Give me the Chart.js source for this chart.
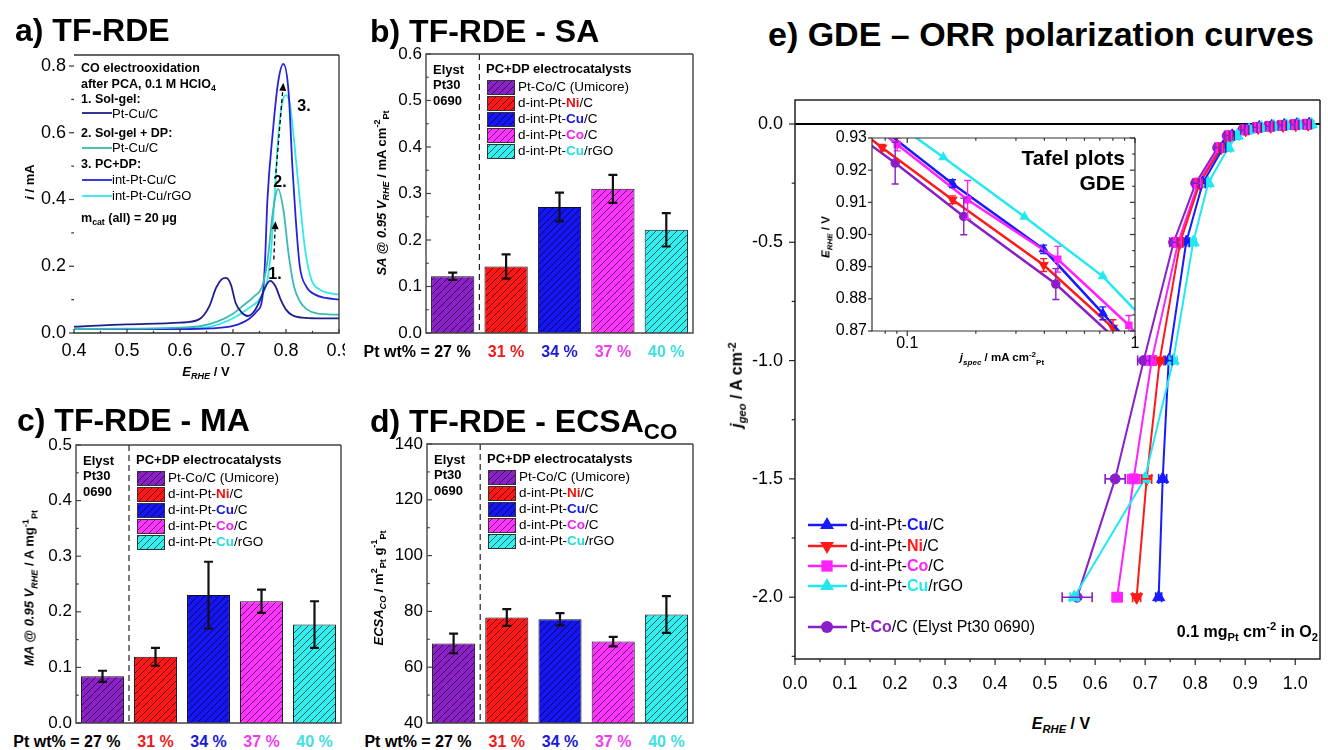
<!DOCTYPE html>
<html>
<head>
<meta charset="utf-8">
<script src="https://cdn.jsdelivr.net/npm/chart.js@4.4.0/dist/chart.umd.min.js"></script>
<style>
  body { margin: 0; background: #fff; }
  #page { position: relative; width: 1328px; height: 750px; overflow: hidden; background: #fff;
          font-family: "Liberation Sans", Arial, sans-serif; color: #000; }
  #page canvas { position: absolute; }
  .t { position: absolute; white-space: nowrap; line-height: 1.15; }
  .t sub, .t sup { font-size: 0.7em; line-height: 0; }
</style>
</head>
<body>
<div id="page">
  <canvas id="chartA"></canvas>
  <canvas id="chartB"></canvas>
  <canvas id="chartC"></canvas>
  <canvas id="chartD"></canvas>
  <canvas id="chartE"></canvas>
  <canvas id="chartInset"></canvas>
</div>
<script>
// ---------- data ----------
// a) CO electrooxidation (E / V vs i / mA)
const solgelE   = [0.40, 0.50, 0.60, 0.635, 0.655, 0.668, 0.678, 0.687, 0.696, 0.705, 0.716, 0.728, 0.740, 0.750, 0.760, 0.770, 0.780, 0.790, 0.800, 0.812, 0.830, 0.860, 0.90];
const solgelI   = [0.019, 0.026, 0.031, 0.040, 0.079, 0.135, 0.160, 0.165, 0.145, 0.090, 0.062, 0.051, 0.065, 0.095, 0.135, 0.156, 0.140, 0.100, 0.070, 0.053, 0.046, 0.044, 0.044];
const solgelDpE = [0.40, 0.50, 0.60, 0.64, 0.67, 0.70, 0.72, 0.74, 0.755, 0.765, 0.775, 0.785, 0.795, 0.805, 0.815, 0.826, 0.84, 0.86, 0.90];
const solgelDpI = [0.012, 0.013, 0.016, 0.021, 0.034, 0.058, 0.083, 0.110, 0.140, 0.215, 0.360, 0.431, 0.370, 0.235, 0.140, 0.095, 0.070, 0.058, 0.055];
const pcCuE     = [0.40, 0.50, 0.60, 0.66, 0.70, 0.73, 0.745, 0.755, 0.760, 0.765, 0.775, 0.785, 0.795, 0.805, 0.812, 0.818, 0.826, 0.838, 0.855, 0.875, 0.90];
const pcCuI     = [0.013, 0.012, 0.012, 0.014, 0.021, 0.042, 0.065, 0.100, 0.200, 0.400, 0.600, 0.750, 0.806, 0.720, 0.500, 0.350, 0.200, 0.140, 0.115, 0.105, 0.100];
const pcRgoE    = [0.40, 0.50, 0.60, 0.66, 0.70, 0.73, 0.753, 0.765, 0.772, 0.778, 0.786, 0.793, 0.800, 0.807, 0.815, 0.826, 0.836, 0.848, 0.864, 0.880, 0.90];
const pcRgoI    = [0.012, 0.012, 0.013, 0.020, 0.044, 0.075, 0.108, 0.160, 0.250, 0.400, 0.600, 0.690, 0.713, 0.690, 0.580, 0.400, 0.250, 0.160, 0.130, 0.120, 0.115];

// b-d) TF-RDE bars
const catalysts  = ['Pt-Co/C (Umicore)', 'd-int-Pt-Ni/C', 'd-int-Pt-Cu/C', 'd-int-Pt-Co/C', 'd-int-Pt-Cu/rGO'];
const elements   = ['', 'Ni', 'Cu', 'Co', 'Cu'];
const ptWt       = ['27 %', '31 %', '34 %', '37 %', '40 %'];
const saValues   = [0.122, 0.143, 0.271, 0.310, 0.222];
const saErrors   = [0.008, 0.026, 0.031, 0.030, 0.036];
const maValues   = [0.084, 0.119, 0.230, 0.219, 0.177];
const maErrors   = [0.010, 0.016, 0.060, 0.021, 0.042];
const ecsaValues = [68.5, 77.8, 77.2, 69.2, 78.9];
const ecsaErrors = [3.5, 3.0, 2.2, 1.7, 6.6];

// e) GDE polarization curves (j_geo / A cm-2, E / V)
const jGeo     = [-0.001, -0.003, -0.006, -0.010, -0.015, -0.025, -0.05, -0.10, -0.25, -0.50, -1.00, -1.50, -2.00];
const eElyst   = [1.020, 0.995, 0.970, 0.945, 0.920, 0.895, 0.864, 0.845, 0.801, 0.757, 0.697, 0.640, 0.564];
const eCo      = [1.024, 0.999, 0.974, 0.949, 0.924, 0.899, 0.868, 0.849, 0.806, 0.766, 0.713, 0.677, 0.644];
const eNi      = [1.026, 1.001, 0.976, 0.951, 0.926, 0.901, 0.870, 0.852, 0.809, 0.770, 0.729, 0.703, 0.683];
const eCu      = [1.028, 1.003, 0.978, 0.953, 0.928, 0.903, 0.874, 0.856, 0.815, 0.782, 0.747, 0.735, 0.727];
const eRgo     = [1.032, 1.007, 0.982, 0.957, 0.932, 0.908, 0.884, 0.866, 0.826, 0.796, 0.756, 0.699, 0.558];
const errElyst = [0.004, 0.004, 0.004, 0.004, 0.004, 0.004, 0.005, 0.006, 0.006, 0.008, 0.012, 0.020, 0.030];
const errCo    = [0.004, 0.004, 0.004, 0.004, 0.004, 0.004, 0.004, 0.005, 0.005, 0.006, 0.008, 0.012, 0.010];
const errNi    = [0.004, 0.004, 0.004, 0.004, 0.004, 0.004, 0.004, 0.005, 0.005, 0.006, 0.008, 0.010, 0.008];
const errCu    = [0.004, 0.004, 0.004, 0.004, 0.004, 0.004, 0.004, 0.005, 0.005, 0.006, 0.007, 0.008, 0.006];
const errRgo   = [0.004, 0.004, 0.004, 0.004, 0.004, 0.004, 0.004, 0.005, 0.005, 0.006, 0.008, 0.006, 0.008];

// e) inset Tafel plots (j_spec / mA cm-2 Pt, E / V)
const tafElystJ = [0.06, 0.0885, 0.177, 0.449, 1.0];
const tafElystE = [0.931, 0.9222, 0.9056, 0.8846, 0.862];
const tafElystD = [0, 0.0065, 0.0057, 0.0048, 0];
const tafCoJ    = [0.06, 0.0903, 0.184, 0.458, 0.94, 1.0];
const tafCoE    = [0.9379, 0.928, 0.9108, 0.8923, 0.8718, 0.8695];
const tafCoD    = [0, 0.002, 0.006, 0.004, 0.003, 0];
const tafNiJ    = [0.06, 0.0776, 0.158, 0.397, 0.80, 1.0];
const tafNiE    = [0.933, 0.927, 0.9108, 0.8905, 0.871, 0.864];
const tafNiD    = [0, 0.001, 0.0012, 0.002, 0.0025, 0];
const tafCuJ    = [0.06, 0.158, 0.397, 0.722, 1.0];
const tafCuE    = [0.939, 0.9158, 0.8954, 0.8755, 0.8645];
const tafCuD    = [0, 0.0012, 0.0013, 0.002, 0];
const tafRgoJ   = [0.08, 0.144, 0.327, 0.722, 1.0];
const tafRgoE   = [0.937, 0.924, 0.9055, 0.887, 0.8765];
const tafRgoD   = [0, 0, 0, 0, 0];

// tick values
const aTicksX = [0.4, 0.5, 0.6, 0.7, 0.8, 0.9];
const aTicksY = [0, 0.2, 0.4, 0.6, 0.8];
const saTicks = [0, 0.1, 0.2, 0.3, 0.4, 0.5, 0.6];
const maTicks = [0, 0.1, 0.2, 0.3, 0.4, 0.5];
const ecsaTicks = [40, 60, 80, 100, 120, 140];
const eTicksX = [0, 0.1, 0.2, 0.3, 0.4, 0.5, 0.6, 0.7, 0.8, 0.9, 1.0];
const eTicksY = [-2.0, -1.5, -1.0, -0.5, 0.0];
const insetTicksX = [0.1, 1];
const insetTicksY = [0.87, 0.88, 0.89, 0.90, 0.91, 0.92, 0.93];

// ---------- styling ----------
const FONT = '"Liberation Sans", Arial, sans-serif';
const PURPLE = '#8a1ec8', RED = '#ff1a1a', BLUE = '#1a1aff', MAGENTA = '#ff22ff', CYAN = '#22e8f0';
const barColors = ['#8c20c8', '#ff1616', '#1616f5', '#ff33ff', '#33f0f0'];
const textColors = ['#000', '#f01818', '#1a1ad8', '#f03cf0', '#3ee0e0'];
const elemColors = ['#000', '#ee1111', '#1515dd', '#ee22ee', '#22dddd'];

function hatch(color) {
  const s = 7, c = document.createElement('canvas');
  c.width = s; c.height = s;
  const g = c.getContext('2d');
  g.fillStyle = color; g.fillRect(0, 0, s, s);
  g.strokeStyle = 'rgba(0,0,0,0.7)'; g.lineWidth = 0.9;
  g.beginPath();
  g.moveTo(0, s); g.lineTo(s, 0);
  g.moveTo(-1, 1); g.lineTo(1, -1);
  g.moveTo(s - 1, s + 1); g.lineTo(s + 1, s - 1);
  g.stroke();
  return g.createPattern(c, 'repeat');
}
const barFills = barColors.map(hatch);

function marker(ctx, style, x, y, r, rot) {
  ctx.beginPath();
  if (style === 'triangle') {
    const s = rot ? -1 : 1;
    ctx.moveTo(x, y - s * r);
    ctx.lineTo(x + r * 0.866, y + s * r * 0.5);
    ctx.lineTo(x - r * 0.866, y + s * r * 0.5);
    ctx.closePath();
  } else if (style === 'rect') {
    const h = r / Math.SQRT2;
    ctx.rect(x - h, y - h, 2 * h, 2 * h);
  } else {
    ctx.arc(x, y, r, 0, Math.PI * 2);
  }
  ctx.fill();
}

// ---------- plugins ----------
const framePlugin = {
  id: 'frame',
  beforeDraw(chart, args, o) {
    if (!o.bg) return;
    const a = chart.chartArea;
    chart.ctx.save();
    chart.ctx.fillStyle = '#fff';
    chart.ctx.fillRect(a.left, a.top, a.right - a.left, a.bottom - a.top);
    chart.ctx.restore();
  },
  afterDatasetsDraw(chart, args, o) {
    const {ctx, chartArea: a, scales} = chart;
    ctx.save();
    ctx.strokeStyle = o.color; ctx.lineWidth = o.width;
    ctx.beginPath();
    if (o.sides.includes('t')) { ctx.moveTo(a.left, a.top); ctx.lineTo(a.right, a.top); }
    if (o.sides.includes('r')) { ctx.moveTo(a.right, a.top); ctx.lineTo(a.right, a.bottom); }
    if (o.sides.includes('b')) { ctx.moveTo(a.left - o.width / 2, a.bottom); ctx.lineTo(a.right + o.width / 2, a.bottom); }
    if (o.sides.includes('l')) { ctx.moveTo(a.left, a.top - o.width / 2); ctx.lineTo(a.left, a.bottom); }
    ctx.stroke();
    ctx.lineWidth = o.tickWidth || 1.2;
    (o.ticks || []).forEach(t => {
      const sc = scales[t.axis];
      const draw = (vals, len) => vals.forEach(v => {
        const p = sc.getPixelForValue(v);
        ctx.beginPath();
        if (t.side === 'l') { ctx.moveTo(a.left, p); ctx.lineTo(a.left + (t.out ? -len : len), p); }
        if (t.side === 'r') { ctx.moveTo(a.right, p); ctx.lineTo(a.right + (t.out ? len : -len), p); }
        if (t.side === 'b') { ctx.moveTo(p, a.bottom); ctx.lineTo(p, a.bottom + (t.out ? len : -len)); }
        if (t.side === 't') { ctx.moveTo(p, a.top); ctx.lineTo(p, a.top + (t.out ? -len : len)); }
        ctx.stroke();
      });
      draw(t.major, t.len);
      draw(t.minor || [], t.len * 0.55);
    });
    ctx.restore();
  }
};

const coPlugin = {
  id: 'coAnno',
  afterDatasetsDraw(chart) {
    const {ctx, chartArea: a, scales: {x, y}} = chart;
    ctx.save();
    // legend line samples
    const rows = [58, 93, 125, 141];
    chart.data.datasets.forEach((ds, i) => {
      ctx.strokeStyle = ds.borderColor; ctx.lineWidth = 1.8;
      ctx.beginPath(); ctx.moveTo(a.left + 8, a.top + rows[i]); ctx.lineTo(a.left + 38, a.top + rows[i]); ctx.stroke();
    });
    // dashed arrows 1. -> 2. -> 3.
    const arrows = [[0.777, 0.22, 0.780, 0.335], [0.781, 0.48, 0.795, 0.75]];
    ctx.strokeStyle = '#000'; ctx.fillStyle = '#000'; ctx.lineWidth = 1.3;
    arrows.forEach(([x0, y0, x1, y1]) => {
      const px0 = x.getPixelForValue(x0), py0 = y.getPixelForValue(y0);
      const px1 = x.getPixelForValue(x1), py1 = y.getPixelForValue(y1);
      const ang = Math.atan2(py1 - py0, px1 - px0);
      const hx = px1 - 8 * Math.cos(ang), hy = py1 - 8 * Math.sin(ang);
      ctx.setLineDash([4, 3]);
      ctx.beginPath(); ctx.moveTo(px0, py0); ctx.lineTo(hx, hy); ctx.stroke();
      ctx.setLineDash([]);
      ctx.beginPath();
      ctx.moveTo(px1, py1);
      ctx.lineTo(hx + 3.5 * Math.sin(ang), hy - 3.5 * Math.cos(ang));
      ctx.lineTo(hx - 3.5 * Math.sin(ang), hy + 3.5 * Math.cos(ang));
      ctx.closePath(); ctx.fill();
    });
    ctx.restore();
  }
};

const barPlugin = {
  id: 'barDecor',
  afterDatasetsDraw(chart, args, o) {
    const {ctx, chartArea: a, scales: {x, y}} = chart;
    const ds = chart.data.datasets[0];
    const meta = chart.getDatasetMeta(0);
    ctx.save();
    // error bars
    ctx.strokeStyle = '#111'; ctx.lineWidth = 2.2;
    meta.data.forEach((bar, i) => {
      const v = ds.data[i], e = o.errors[i];
      const y1 = y.getPixelForValue(v + e), y2 = y.getPixelForValue(v - e);
      ctx.beginPath();
      ctx.moveTo(bar.x, y1); ctx.lineTo(bar.x, y2);
      ctx.moveTo(bar.x - 4.5, y1); ctx.lineTo(bar.x + 4.5, y1);
      ctx.moveTo(bar.x - 4.5, y2); ctx.lineTo(bar.x + 4.5, y2);
      ctx.stroke();
    });
    // dashed separator between reference and PC+DP catalysts
    const sx = (x.getPixelForValue(0) + x.getPixelForValue(1)) / 2;
    ctx.lineWidth = 1.2; ctx.strokeStyle = '#222'; ctx.setLineDash([6, 4]);
    ctx.beginPath(); ctx.moveTo(sx, a.top); ctx.lineTo(sx, a.bottom); ctx.stroke();
    ctx.setLineDash([]);
    // legend swatches
    ds.backgroundColor.forEach((fill, i) => {
      const bx = a.left + 61, by = a.top + 26 + 16 * i;
      ctx.fillStyle = fill; ctx.fillRect(bx, by, 27, 14);
      ctx.lineWidth = 1; ctx.strokeStyle = '#333'; ctx.strokeRect(bx + 0.5, by + 0.5, 27, 14);
    });
    ctx.restore();
  }
};

const gdePlugin = {
  id: 'gde',
  beforeDatasetsDraw(chart) {
    const {ctx, chartArea: a, scales: {y}} = chart;
    const y0 = y.getPixelForValue(0);
    ctx.save(); ctx.strokeStyle = '#000'; ctx.lineWidth = 2;
    ctx.beginPath(); ctx.moveTo(a.left, y0); ctx.lineTo(a.right, y0); ctx.stroke();
    ctx.restore();
  },
  afterDatasetsDraw(chart, args, o) {
    const {ctx, chartArea: a, scales: {x, y}} = chart;
    ctx.save();
    chart.data.datasets.forEach(ds => {
      ctx.strokeStyle = ds.borderColor; ctx.lineWidth = 1.6;
      ds.data.forEach((p, i) => {
        const e = ds.errX[i];
        if (!e) return;
        const x1 = x.getPixelForValue(p.x - e), x2 = x.getPixelForValue(p.x + e), py = y.getPixelForValue(p.y);
        ctx.beginPath();
        ctx.moveTo(x1, py); ctx.lineTo(x2, py);
        ctx.moveTo(x1, py - 5); ctx.lineTo(x1, py + 5);
        ctx.moveTo(x2, py - 5); ctx.lineTo(x2, py + 5);
        ctx.stroke();
      });
    });
    o.rows.forEach((idx, k) => {
      const ds = chart.data.datasets[idx];
      const yy = a.top + o.rowY[k];
      ctx.strokeStyle = ds.borderColor; ctx.lineWidth = 2.5;
      ctx.beginPath(); ctx.moveTo(a.left + 13, yy); ctx.lineTo(a.left + 52, yy); ctx.stroke();
      ctx.fillStyle = ds.borderColor;
      marker(ctx, ds.pointStyle, a.left + 32, yy, ds.pointRadius + 1, ds.pointRotation);
    });
    ctx.restore();
  }
};

const tafelPlugin = {
  id: 'tafel',
  afterDatasetsDraw(chart) {
    const {ctx, chartArea: a, scales: {x, y}} = chart;
    ctx.save();
    ctx.beginPath(); ctx.rect(a.left, a.top, a.right - a.left, a.bottom - a.top); ctx.clip();
    chart.data.datasets.forEach(ds => {
      ctx.strokeStyle = ds.borderColor; ctx.lineWidth = 1.4;
      ds.data.forEach((p, i) => {
        const e = ds.errY[i];
        if (!e) return;
        const px = x.getPixelForValue(p.x), y1 = y.getPixelForValue(p.y + e), y2 = y.getPixelForValue(p.y - e);
        ctx.beginPath();
        ctx.moveTo(px, y1); ctx.lineTo(px, y2);
        ctx.moveTo(px - 3.5, y1); ctx.lineTo(px + 3.5, y1);
        ctx.moveTo(px - 3.5, y2); ctx.lineTo(px + 3.5, y2);
        ctx.stroke();
      });
    });
    ctx.restore();
  }
};

// ---------- chart helpers ----------
function axis(o) {
  const cfg = {
    type: o.type, position: o.pos, min: o.min, max: o.max,
    offset: o.type === 'category',
    grid: {display: false, drawTicks: false},
    border: {display: false},
    ticks: {
      display: !!o.labels, padding: o.pad || 0, autoSkip: false, maxRotation: 0, minRotation: 0,
      color: '#000', font: {family: FONT, size: o.font || 17}, callback: o.fmt
    },
    afterFit: s => {
      if (o.pos === 'left') s.width = o.size; else s.height = o.size;
      s.paddingLeft = 0; s.paddingRight = 0; s.paddingTop = 0; s.paddingBottom = 0;
    }
  };
  if (o.labels) cfg.afterBuildTicks = s => { s.ticks = o.labels.map(v => ({value: v})); };
  return cfg;
}

function panel(id, rect, area, type, data, xOpt, yOpt, plugins, pluginOpts) {
  const cv = document.getElementById(id);
  cv.width = rect.w; cv.height = rect.h;
  cv.style.left = rect.x + 'px'; cv.style.top = rect.y + 'px';
  xOpt.pos = 'bottom'; xOpt.size = rect.y + rect.h - area.b;
  yOpt.pos = 'left'; yOpt.size = area.l - rect.x;
  return new Chart(cv, {
    type: type,
    data: data,
    plugins: plugins,
    options: {
      responsive: false, animation: false, devicePixelRatio: 1,
      layout: {padding: {left: 0, top: area.t - rect.y, right: rect.x + rect.w - area.r, bottom: 0}},
      plugins: Object.assign({legend: {display: false}, tooltip: {enabled: false}}, pluginOpts),
      scales: {x: axis(xOpt), y: axis(yOpt)}
    }
  });
}

const pts = (xs, ys) => xs.map((v, i) => ({x: v, y: ys[i]}));
const f1 = v => v.toFixed(1);

// ---------- a) CO stripping ----------
const curve = (xs, ys, color) => ({data: pts(xs, ys), borderColor: color, borderWidth: 1.8, pointRadius: 0,
  cubicInterpolationMode: 'monotone', clip: 0});
panel('chartA', {x: 0, y: 45, w: 345, h: 325}, {l: 74, t: 55, r: 339, b: 333}, 'line',
  {datasets: [
    curve(solgelE, solgelI, '#1e1e8c'),
    curve(solgelDpE, solgelDpI, '#3bbab2'),
    curve(pcCuE, pcCuI, '#2424e0'),
    curve(pcRgoE, pcRgoI, '#33e8ea')
  ]},
  {type: 'linear', min: 0.4, max: 0.9, labels: aTicksX, fmt: f1, pad: 7, font: 18},
  {type: 'linear', min: 0, max: 0.833, labels: aTicksY, fmt: f1, pad: 8, font: 18},
  [coPlugin, framePlugin],
  {frame: {color: '#333', width: 1.3, sides: 'trb', ticks: [
    {axis: 'y', side: 'l', out: true, len: 5, major: aTicksY, minor: [0.1, 0.3, 0.5, 0.7]},
    {axis: 'x', side: 'b', out: false, len: 4, major: aTicksX, minor: [0.45, 0.55, 0.65, 0.75, 0.85]}
  ]}});

// ---------- b-d) bars ----------
function barPanel(id, rect, area, values, errors, min, max, ticks, minor, fmt) {
  return panel(id, rect, area, 'bar',
    {labels: catalysts, datasets: [{data: values, backgroundColor: barFills, borderColor: '#111', borderWidth: 1,
      barPercentage: 0.81, categoryPercentage: 1}]},
    {type: 'category'},
    {type: 'linear', min: min, max: max, labels: ticks, fmt: fmt, pad: 4},
    [barPlugin, framePlugin],
    {barDecor: {errors: errors},
     frame: {color: '#444', width: 1.4, sides: 'trbl', ticks: [
       {axis: 'y', side: 'l', out: false, len: 5, major: ticks, minor: minor}]}});
}
const areaB = {l: 426, t: 54, r: 693, b: 333};
const areaC = {l: 76, t: 445, r: 341, b: 723};
const areaD = {l: 427, t: 444, r: 693, b: 723};
barPanel('chartB', {x: 385, y: 40, w: 315, h: 300}, areaB, saValues, saErrors, 0, 0.6, saTicks,
  [0.05, 0.15, 0.25, 0.35, 0.45, 0.55], f1);
barPanel('chartC', {x: 35, y: 430, w: 315, h: 300}, areaC, maValues, maErrors, 0, 0.5, maTicks,
  [0.05, 0.15, 0.25, 0.35, 0.45], f1);
barPanel('chartD', {x: 385, y: 430, w: 315, h: 300}, areaD, ecsaValues, ecsaErrors, 40, 140, ecsaTicks,
  [50, 70, 90, 110, 130], v => v.toFixed(0));

// ---------- e) GDE polarization ----------
const series = (es, errs, color, style, r, rot) => ({
  data: pts(es, jGeo), errX: errs, borderColor: color, backgroundColor: color,
  pointBackgroundColor: color, pointBorderColor: color, pointBorderWidth: 1,
  pointStyle: style, pointRadius: r, pointRotation: rot || 0, borderWidth: 2, tension: 0, clip: 0
});
panel('chartE', {x: 745, y: 90, w: 583, h: 610}, {l: 795, t: 100, r: 1325, b: 659}, 'line',
  {datasets: [
    series(eRgo, errRgo, CYAN, 'triangle', 7),
    series(eCu, errCu, BLUE, 'triangle', 7),
    series(eNi, errNi, RED, 'triangle', 7, 180),
    series(eCo, errCo, MAGENTA, 'rect', 7),
    series(eElyst, errElyst, PURPLE, 'circle', 5)
  ]},
  {type: 'linear', min: 0, max: 1.0495, labels: eTicksX, fmt: f1, pad: 14, font: 18},
  {type: 'linear', min: -2.2613, max: 0.1014, labels: eTicksY, fmt: f1, pad: 12, font: 18},
  [gdePlugin, framePlugin],
  {gde: {rows: [1, 2, 3, 0, 4], rowY: [425, 446, 466, 486, 527]},
   frame: {color: '#222', width: 1.5, sides: 'trbl', ticks: [
     {axis: 'y', side: 'l', out: true, len: 6, major: eTicksY, minor: [-2.25, -1.75, -1.25, -0.75, -0.25]},
     {axis: 'x', side: 'b', out: true, len: 6, major: eTicksX, minor: [0.05, 0.15, 0.25, 0.35, 0.45, 0.55, 0.65, 0.75, 0.85, 0.95]}
   ]}});

const tafel = (js, es, ds, color, style, rot) => ({
  data: pts(js, es), errY: ds, borderColor: color, backgroundColor: color,
  pointBackgroundColor: color, pointBorderColor: color, pointStyle: style, pointRotation: rot || 0,
  pointRadius: ds.map((d, i) => (i === 0 || i === js.length - 1) ? 0 : 3.5), borderWidth: 2.5, tension: 0, clip: 0
});
panel('chartInset', {x: 830, y: 128, w: 312, h: 235}, {l: 872, t: 138, r: 1135, b: 331}, 'line',
  {datasets: [
    tafel(tafRgoJ, tafRgoE, tafRgoD, CYAN, 'triangle'),
    tafel(tafCoJ, tafCoE, tafCoD, MAGENTA, 'rect'),
    tafel(tafCuJ, tafCuE, tafCuD, BLUE, 'triangle'),
    tafel(tafNiJ, tafNiE, tafNiD, RED, 'triangle', 180),
    tafel(tafElystJ, tafElystE, tafElystD, PURPLE, 'circle')
  ]},
  {type: 'logarithmic', min: 0.07, max: 1, labels: insetTicksX, fmt: v => (v === 1 ? '1' : '0.1'), pad: 3, font: 16},
  {type: 'linear', min: 0.87, max: 0.93, labels: insetTicksY, fmt: v => v.toFixed(2), pad: 5, font: 16},
  [tafelPlugin, framePlugin],
  {frame: {bg: true, color: '#333', width: 1.2, sides: 'trbl', ticks: [
    {axis: 'y', side: 'l', out: true, len: 4, major: insetTicksY},
    {axis: 'y', side: 'r', out: false, len: 5, major: insetTicksY, minor: [0.875, 0.885, 0.895, 0.905, 0.915, 0.925]},
    {axis: 'x', side: 'b', out: true, len: 5, major: insetTicksX, minor: [0.08, 0.09, 0.2, 0.3, 0.4, 0.5, 0.6, 0.7, 0.8, 0.9]},
    {axis: 'x', side: 't', out: false, len: 5, major: insetTicksX, minor: [0.08, 0.09, 0.2, 0.3, 0.4, 0.5, 0.6, 0.7, 0.8, 0.9]}
  ]}});

// ---------- text ----------
const page = document.getElementById('page');
function txt(x, y, html, o) {
  o = o || {};
  const d = document.createElement('div');
  d.className = 't';
  d.innerHTML = html;
  d.style.left = x + 'px'; d.style.top = y + 'px';
  d.style.fontSize = (o.size || 13) + 'px';
  if (o.bold) d.style.fontWeight = 'bold';
  if (o.color) d.style.color = o.color;
  const ax = o.align === 'center' || o.rot ? '-50%' : o.align === 'right' ? '-100%' : '0';
  d.style.transform = 'translate(' + ax + ', -50%)' + (o.rot ? ' rotate(-90deg)' : '');
  page.appendChild(d);
}
const el = (s, c) => '<b style="color:' + c + '">' + s + '</b>';
const legendName = i => elements[i] ? catalysts[i].replace(elements[i], el(elements[i], elemColors[i])) : catalysts[i];

// panel titles
txt(15, 30, 'a) TF-RDE', {size: 32, bold: true});
txt(370, 31, 'b) TF-RDE - SA', {size: 32, bold: true});
txt(17, 420, 'c) TF-RDE - MA', {size: 32, bold: true});
txt(370, 421, 'd) TF-RDE - ECSA<sub>CO</sub>', {size: 32, bold: true});
txt(1041, 35, 'e) GDE \u2013 ORR polarization curves', {size: 34, bold: true, align: 'center'});

// a) annotations
txt(81, 68, 'CO electrooxidation', {size: 12.5, bold: true});
txt(81, 84, 'after PCA, 0.1 M HClO<sub>4</sub>', {size: 12.5, bold: true});
txt(81, 99, '1. Sol-gel:', {size: 12.5, bold: true});
txt(112, 114, 'Pt-Cu/C', {size: 13});
txt(81, 133, '2. Sol-gel + DP:', {size: 12.5, bold: true});
txt(112, 148, 'Pt-Cu/C', {size: 13});
txt(81, 164, '3. PC+DP:', {size: 12.5, bold: true});
txt(112, 180, 'int-Pt-Cu/C', {size: 13});
txt(112, 196, 'int-Pt-Cu/rGO', {size: 13});
txt(81, 218, 'm<sub>cat</sub> (all) = 20 \u00b5g', {size: 12.5, bold: true});
txt(275, 274, '1.', {size: 16, bold: true, align: 'center'});
txt(280, 182, '2.', {size: 16, bold: true, align: 'center'});
txt(304, 106, '3.', {size: 16, bold: true, align: 'center'});
txt(30, 182, '<i>i</i> / mA', {size: 13, bold: true, rot: true});
txt(206, 372, '<i>E<sub>RHE</sub></i> / V', {size: 13, bold: true, align: 'center'});

// b-d) annotations
function barTexts(area) {
  const {l, t, r, b} = area;
  txt(l + 7, t + 16, 'Elyst', {size: 13, bold: true});
  txt(l + 7, t + 31, 'Pt30', {size: 13, bold: true});
  txt(l + 7, t + 47, '0690', {size: 13, bold: true});
  txt(l + 60, t + 15, 'PC+DP electrocatalysts', {size: 13, bold: true});
  catalysts.forEach((c, i) => txt(l + 92, t + 33 + 16 * i, legendName(i), {size: 13.5}));
  const step = (r - l) / catalysts.length;
  ptWt.forEach((w, i) => {
    const cx = l + step * (i + 0.5);
    if (i === 0) txt(cx + 18, b + 19, 'Pt wt% = ' + w, {size: 16, bold: true, align: 'right'});
    else txt(cx, b + 19, w, {size: 16, bold: true, align: 'center', color: textColors[i]});
  });
}
barTexts(areaB); barTexts(areaC); barTexts(areaD);
txt(382, 193, '<i>SA @ 0.95 V<sub>RHE</sub></i> / mA cm<sup>-2</sup><sub>Pt</sub>', {size: 13, bold: true, rot: true});
txt(30, 588, '<i>MA @ 0.95 V<sub>RHE</sub></i> / A mg<sup>-1</sup><sub>Pt</sub>', {size: 13, bold: true, rot: true});
txt(379, 588, '<i>ECSA<sub>CO</sub></i> / m<sup>2</sup><sub>Pt</sub> g<sup>-1</sup><sub>Pt</sub>', {size: 13, bold: true, rot: true});

// e) annotations
txt(737, 385, '<i>j<sub>geo</sub></i> / A cm<sup>-2</sup>', {size: 16, bold: true, rot: true});
txt(1061, 724, '<i>E<sub>RHE</sub></i> / V', {size: 16, bold: true, align: 'center'});
txt(1318, 632, '0.1 mg<sub>Pt</sub> cm<sup>-2</sup> in O<sub>2</sub>', {size: 16, bold: true, align: 'right'});
txt(850, 525, 'd-int-Pt-' + el('Cu', BLUE) + '/C', {size: 16});
txt(850, 546, 'd-int-Pt-' + el('Ni', RED) + '/C', {size: 16});
txt(850, 566, 'd-int-Pt-' + el('Co', MAGENTA) + '/C', {size: 16});
txt(850, 586, 'd-int-Pt-' + el('Cu', CYAN) + '/rGO', {size: 16});
txt(850, 627, 'Pt-' + el('Co', PURPLE) + '/C (Elyst Pt30 0690)', {size: 16});
txt(1125, 158, 'Tafel plots', {size: 21, bold: true, align: 'right'});
txt(1125, 183, 'GDE', {size: 21, bold: true, align: 'right'});
txt(826, 237, '<i>E<sub>RHE</sub></i> / V', {size: 11.5, bold: true, rot: true});
txt(1002, 358, '<i>j<sub>spec</sub></i> / mA cm<sup>-2</sup><sub>Pt</sub>', {size: 11.5, bold: true, align: 'center'});
</script>
</body>
</html>
